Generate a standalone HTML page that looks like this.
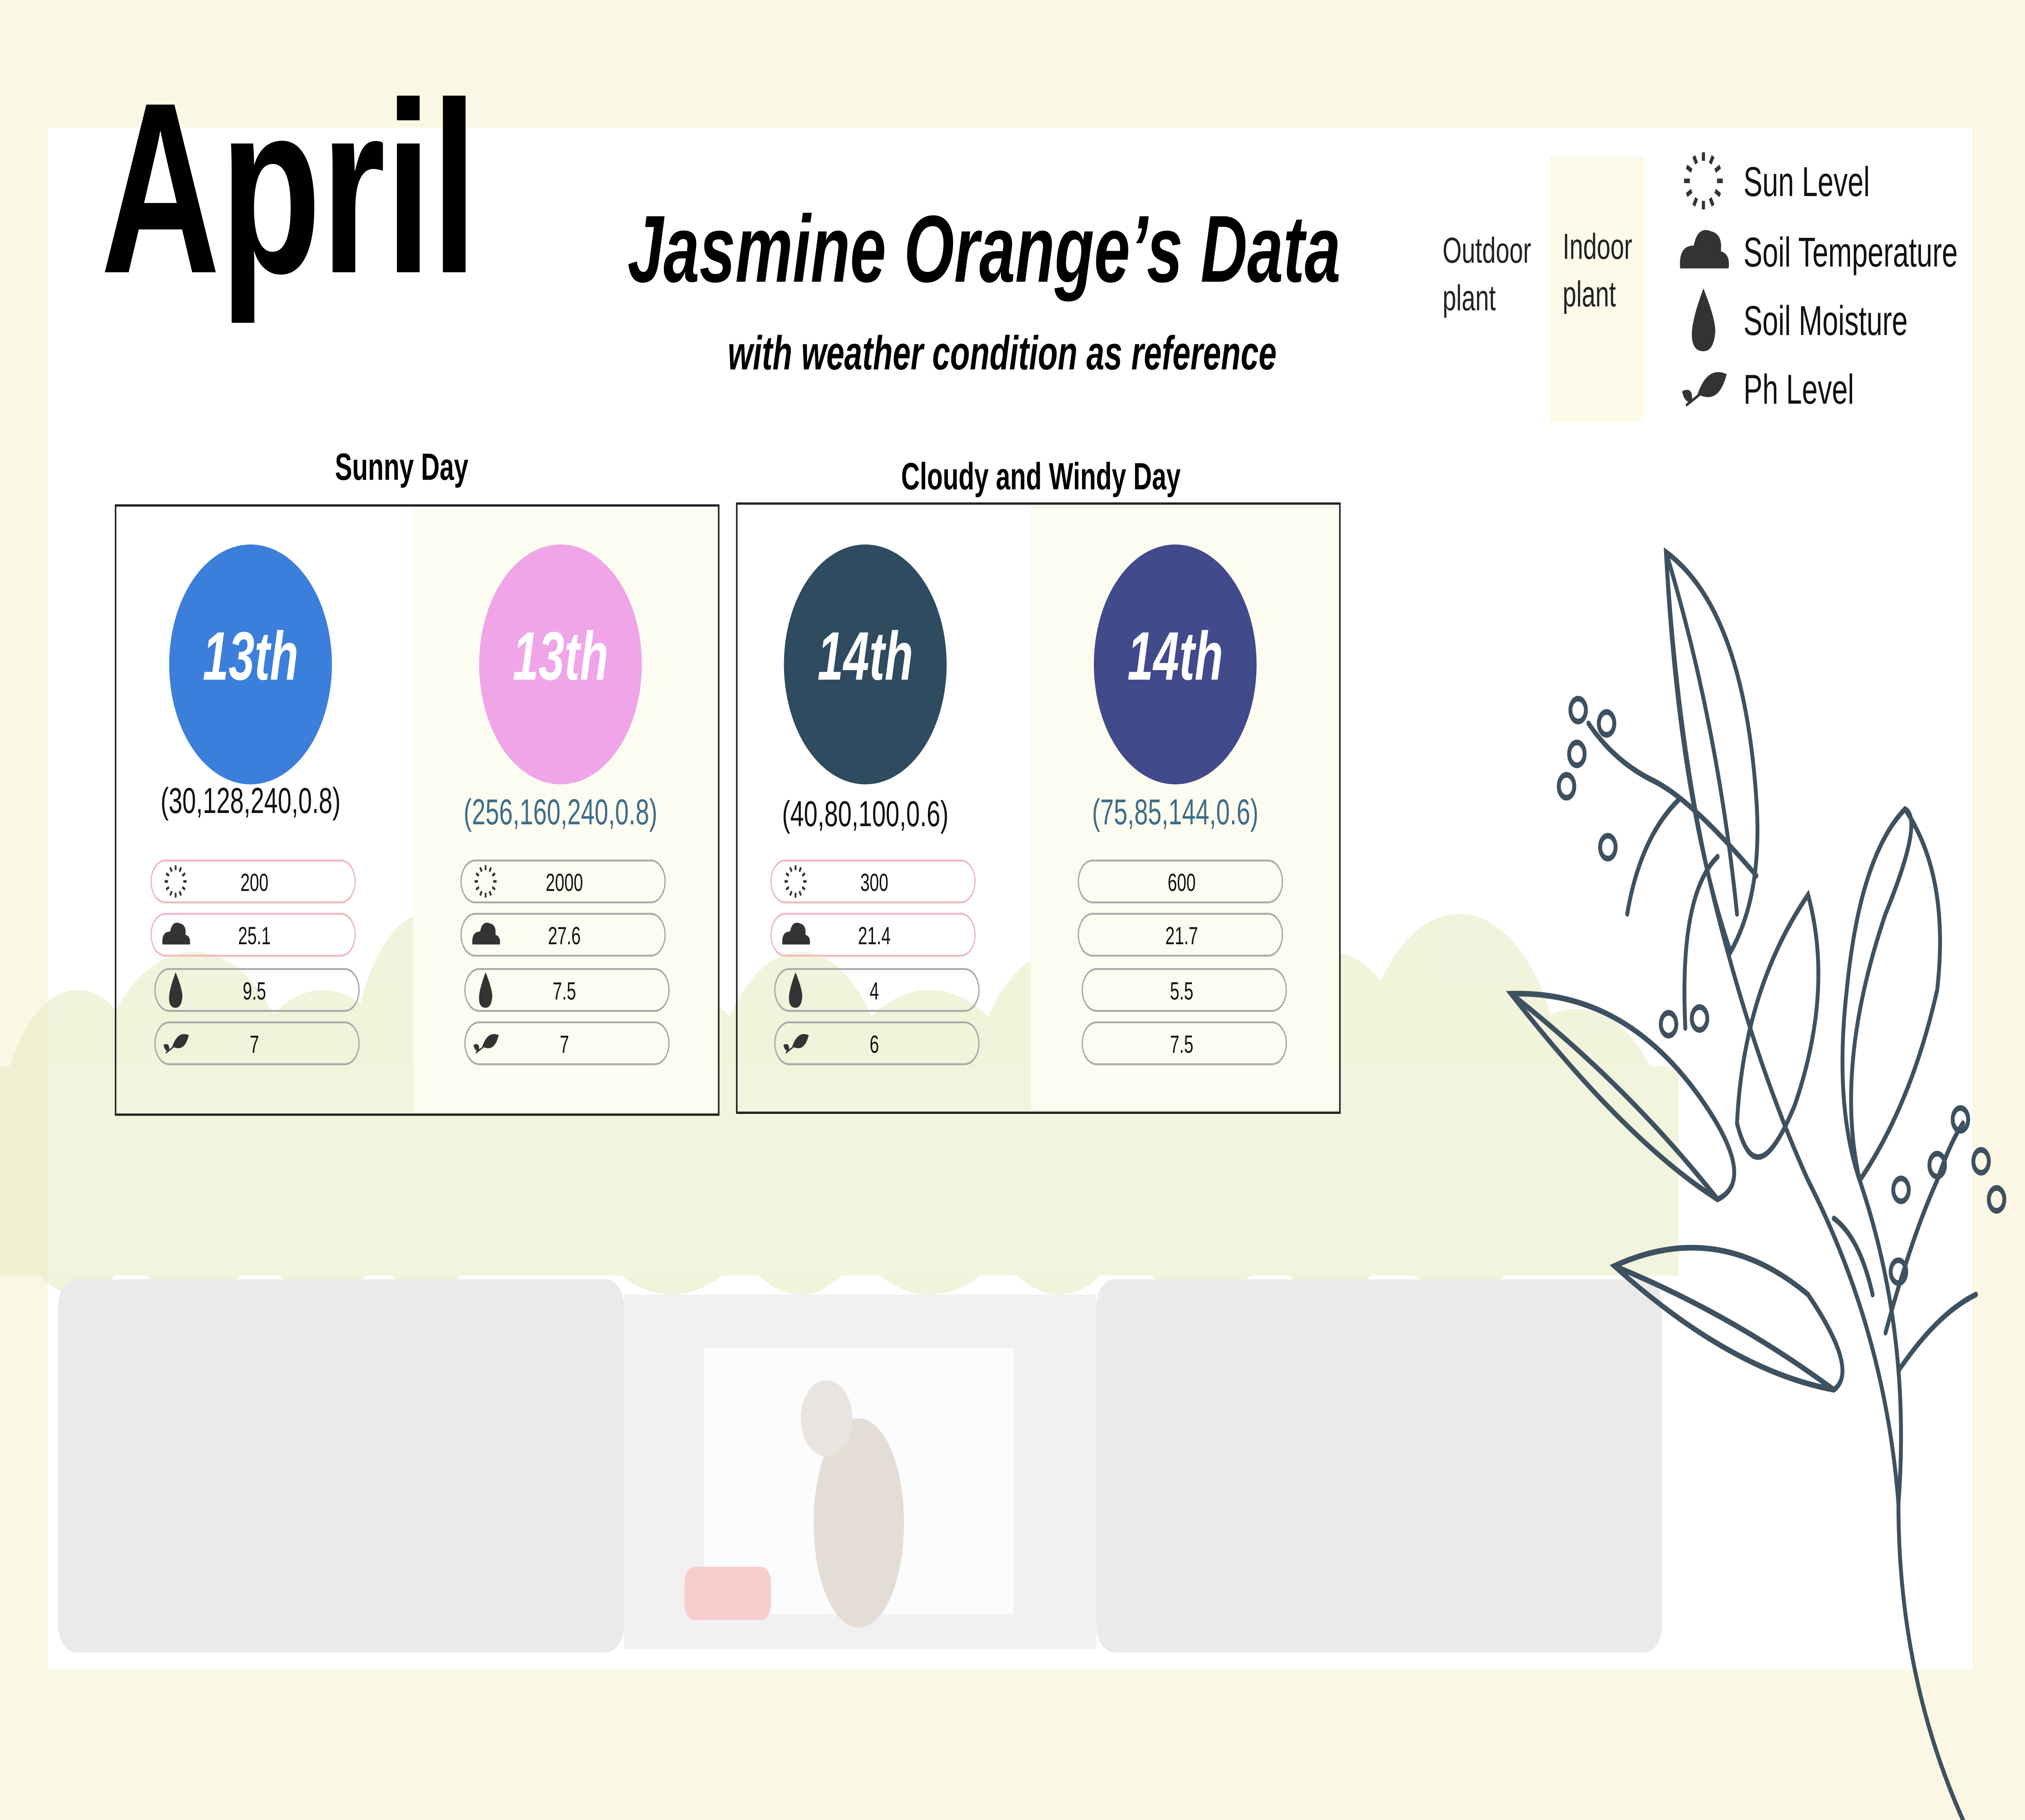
<!DOCTYPE html>
<html><head><meta charset="utf-8">
<style>
html,body{margin:0;padding:0;background:#faf8e4;width:100%;height:100%;overflow:hidden;}
svg{display:block;width:100vw;height:100vh;}
text{font-family:"Liberation Sans","DejaVu Sans",sans-serif;}
</style></head>
<body>
<svg id="chart" viewBox="0 0 1568 956" preserveAspectRatio="none" xmlns="http://www.w3.org/2000/svg">
<rect x="0" y="0" width="1568" height="956" fill="#faf8e4"/>
<rect x="37" y="67" width="1490" height="810" fill="#ffffff"/>
<g id="scenery" opacity="0.55"></g>
<text x="78" y="143" font-size="128" font-weight="bold" fill="#000">April</text>
<text x="762" y="148" font-size="50" font-weight="bold" font-style="italic" text-anchor="middle" fill="#000">Jasmine Orange’s Data</text>
<text x="776" y="194" font-size="25" font-weight="bold" font-style="italic" text-anchor="middle" fill="#000">with weather condition as reference</text>
<rect x="1200" y="82" width="73" height="140" fill="#fcfbea"/>
<text x="1117" y="138" font-size="19" fill="#222"><tspan x="1117">Outdoor</tspan><tspan x="1117" dy="25">plant</tspan></text>
<text x="1210" y="136" font-size="19" fill="#222"><tspan x="1210">Indoor</tspan><tspan x="1210" dy="25">plant</tspan></text>
<g id="legend"></g>
<text x="311" y="252" font-size="20" font-weight="bold" text-anchor="middle">Sunny Day</text>
<text x="806" y="257" font-size="20" font-weight="bold" text-anchor="middle">Cloudy and Windy Day</text>
<rect x="320" y="266" width="236" height="318" fill="#fdfcf0"/>
<rect x="798" y="265" width="239" height="318" fill="#fdfcf0"/>
<g id="cards"></g>
<rect x="89.5" y="265.5" width="467" height="320" fill="none" stroke="#222" stroke-width="1.2"/>
<rect x="570.5" y="264.5" width="467" height="320" fill="none" stroke="#222" stroke-width="1.2"/>
<g id="plant" fill="none" stroke="#3d5160" stroke-width="3" stroke-linecap="round"></g>
</svg>
<script>
const days = ["13th","13th","14th","14th"];
const colorLabels = ["(30,128,240,0.8)","(256,160,240,0.8)","(40,80,100,0.6)","(75,85,144,0.6)"];
const sunLevel = [200, 2000, 300, 600];
const soilTemp = [25.1, 27.6, 21.4, 21.7];
const soilMoisture = [9.5, 7.5, 4, 5.5];
const phLevel = [7, 7, 6, 7.5];

const NS="http://www.w3.org/2000/svg";
function mk(tag, attrs, parent){const e=document.createElementNS(NS,tag);for(const k in attrs)e.setAttribute(k,attrs[k]);if(parent)parent.appendChild(e);return e;}
const circleColors=["#3b7fdb","#efa5e8","#2f4b5f","#414a8b"];
const labelColors=["#111","#3d6d8a","#111","#3d6d8a"];
const cx=[194,434,670,910];
const pillX=[117,357,597,835];
const rowY=[463,491,520,548];
const labelY=[427,433,434,433];

const sc=document.getElementById('scenery');
const bushes=[[60,600,60,80],[150,590,80,90],[250,600,70,80],[330,580,60,100],[420,590,70,80],[520,600,80,80],[620,590,70,90],[720,600,80,80],[820,590,70,90],[930,600,80,80],[1030,590,70,90],[1130,580,80,100],[1220,600,70,70]];
bushes.forEach(b=>{const e=mk('ellipse',{cx:b[0],cy:b[1],rx:b[2],ry:b[3],fill:'#e6ebbf'},sc);

});
mk('rect',{x:0,y:560,width:1300,height:110,fill:'#e9edc4'},sc);
let p1=mk('rect',{x:45,y:672,width:438,height:196,rx:14,fill:'#d9d9d9'},sc);


let p2=mk('rect',{x:849,y:672,width:438,height:196,rx:14,fill:'#d9d9d9'},sc);


mk('rect',{x:483,y:680,width:366,height:186,fill:'#e6e6e6'},sc);
mk('rect',{x:545,y:708,width:240,height:140,fill:'#fbfbfb'},sc);
mk('rect',{x:530,y:823,width:67,height:28,rx:8,fill:'#f3a6a6'},sc);
let cat=mk('ellipse',{cx:665,cy:800,rx:35,ry:55,fill:'#cfc3b5'},sc);


mk('circle',{cx:640,cy:745,r:20,fill:'#d8cfc5'},sc);

const lg=document.getElementById('legend');
const legendNames=["Sun Level","Soil Temperature","Soil Moisture","Ph Level"];
const legendY=[95,132,168,204];
legendNames.forEach((n,i)=>{const t=mk('text',{x:1350,y:legendY[i]+8,'font-size':22,fill:'#111'},lg);t.textContent=n;


drawIcon(lg,i,1319,legendY[i],1.5,'#333');});

function drawIcon(par,i,x,y,s,col){
  const g=mk('g',{transform:`translate(${x},${y}) scale(${s})`},par);
  if(i===0){for(let k=0;k<12;k++){const a=k*Math.PI/6;mk('line',{x1:7*Math.cos(a),y1:7*Math.sin(a),x2:10*Math.cos(a),y2:10*Math.sin(a),stroke:col,'stroke-width':1.6},g);}}
  else if(i===1){mk('path',{d:'M-12 6 Q-13 -2 -5 -2 Q-3 -9 4 -7 Q10 -6 9 0 Q14 1 13 6 Z',fill:col},g);}
  else if(i===2){mk('path',{d:'M0 -11 Q7 1 6 5 Q5 11 0 11 Q-6 11 -6 5 Q-6 0 0 -11Z',fill:col},g);}
  else {mk('path',{d:'M-3 2 Q2 -8 12 -5 Q8 6 -3 2Z',fill:col},g);mk('path',{d:'M-11 1 Q-5 -1 -6 5 Q-10 5 -11 1Z',fill:col},g);mk('line',{x1:-9,y1:6,x2:2,y2:0,stroke:col,'stroke-width':1},g);}
  
  
  return g;
}

const cards=document.getElementById('cards');
days.forEach((d,i)=>{
  const c=mk('circle',{cx:cx[i],cy:349,r:63,fill:circleColors[i]},cards);
  
  
  const t=mk('text',{x:cx[i],y:357,'font-size':36,'font-style':'italic','font-weight':'bold',fill:'#fff','text-anchor':'middle'},cards);t.textContent=d;
  
  
  const l=mk('text',{x:cx[i],y:labelY[i],'font-size':19,fill:labelColors[i],'text-anchor':'middle'},cards);l.textContent=colorLabels[i];
  
  
  const vals=[sunLevel[i],soilTemp[i],soilMoisture[i],phLevel[i]];
  vals.forEach((v,r)=>{
    const stroke=(i===0||i===2)&&r<2?'#f0b8c0':'#aaa';
    const p=mk('rect',{x:pillX[i]+(r>1?3:0),y:rowY[r]-11,width:158,height:22,rx:11,fill:'none',stroke:stroke,'stroke-width':1},cards);
    
    
    if(!(i===3)) drawIcon(cards,r,pillX[i]+19,rowY[r],0.85,'#333');
    const vt=mk('text',{x:pillX[i]+80,y:rowY[r]+5,'font-size':13,fill:'#111','text-anchor':'middle'},cards);vt.textContent=v;
    
    
  });
});

const pl=document.getElementById('plant');
const paths=[
'M1520 956 Q1470 880 1470 790 Q1460 700 1400 620 Q1360 560 1330 480 Q1300 400 1290 290',
'M1290 290 Q1350 320 1360 420 Q1365 470 1340 500 Q1300 420 1290 290Z',
'M1290 290 Q1330 380 1345 480',
'M1470 790 Q1480 700 1440 620 Q1420 560 1460 480 Q1490 430 1475 425 Q1440 450 1430 520 Q1420 580 1440 620',
'M1475 425 Q1510 460 1500 520 Q1480 580 1440 620',
'M1400 470 Q1420 520 1390 580 Q1360 630 1345 590 Q1350 520 1400 470Z',
'M1170 522 Q1260 520 1320 580 Q1360 620 1330 630 Q1260 600 1170 522Z',
'M1170 522 Q1260 570 1330 630',
'M1250 665 Q1330 640 1400 680 Q1440 720 1420 730 Q1340 720 1250 665Z',
'M1250 665 Q1340 690 1420 730',
'M1360 460 Q1310 420 1280 410 Q1250 400 1230 380',
'M1300 420 Q1270 440 1260 480',
'M1330 450 Q1300 470 1305 540',
'M1460 700 Q1480 650 1500 620 Q1510 600 1520 590',
'M1470 720 Q1500 690 1530 680',
'M1450 680 Q1440 650 1420 640'
];
paths.forEach(d=>{const p=mk('path',{d:d},pl);

});
[[1222,373],[1244,380],[1221,396],[1213,413],[1245,445],[1292,538],[1316,535],[1518,588],[1534,610],[1546,630],[1472,625],[1500,612],[1470,668]].forEach(q=>{
const c=mk('circle',{cx:q[0],cy:q[1],r:6},pl);

});
</script>
</body></html>
